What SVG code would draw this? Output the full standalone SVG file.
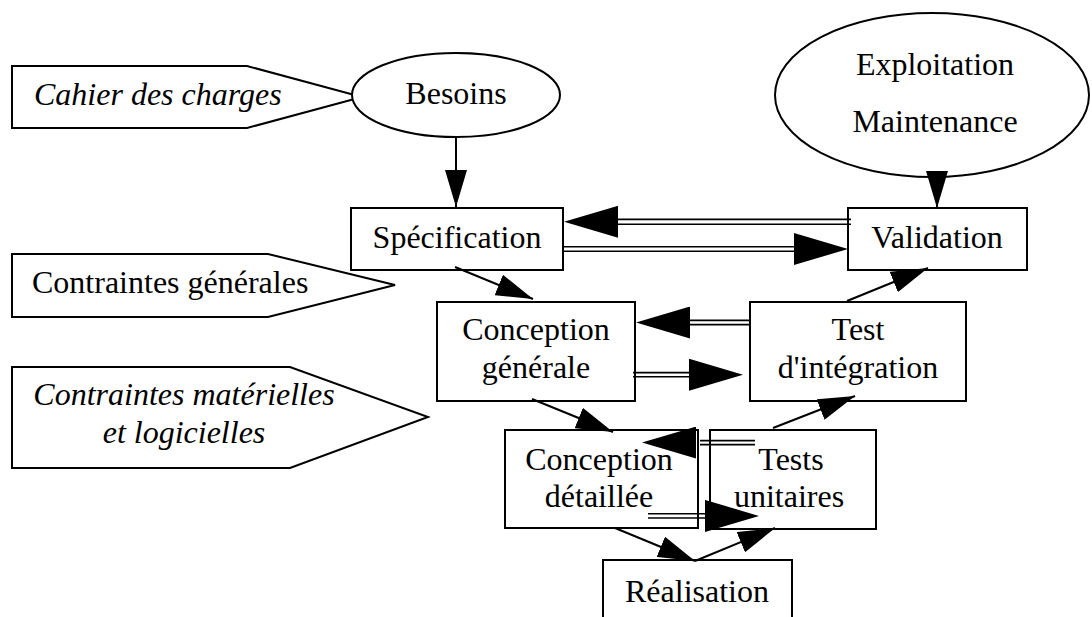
<svg xmlns="http://www.w3.org/2000/svg" width="1092" height="617" viewBox="0 0 1092 617">
<style>
.box{fill:#fff;stroke:#000;stroke-width:2}
.t{font-family:"Liberation Serif","Times New Roman",serif;font-size:32px;fill:#000}
.i{font-style:italic}
.m{text-anchor:middle}
.ln{stroke:#000;stroke-width:2;fill:none}
.dl{stroke:#000;stroke-width:1.6;fill:none}
.ctr{stroke:none;fill:none}
</style>
<defs>
<marker id="ah" markerUnits="userSpaceOnUse" viewBox="0 0 37 22" markerWidth="37" markerHeight="22" refX="37" refY="11" orient="auto"><path d="M0,0 L37,11 L0,22 z" fill="#000"/></marker>
<marker id="ahb" markerUnits="userSpaceOnUse" viewBox="0 0 54 32" markerWidth="54" markerHeight="32" refX="54" refY="16" orient="auto"><path d="M0,0 L54,16 L0,32 z" fill="#000"/></marker>
</defs>
<rect width="1092" height="617" fill="#fff"/>

<g id="cahier">
<polygon class="box" points="12,66 247,66 362,97 247,128 12,128"/>
<text class="t i" x="34" y="105">Cahier des charges</text>
</g>
<g id="besoins">
<ellipse class="box" cx="456" cy="95" rx="104" ry="42"/>
<text class="t m" x="456" y="104">Besoins</text>
</g>
<g id="exploitation">
<ellipse class="box" cx="932" cy="95" rx="157" ry="82"/>
<text class="t m" x="935" y="75">Exploitation</text>
<text class="t m" x="935" y="132">Maintenance</text>
</g>
<g id="specification">
<rect class="box" x="351" y="208" width="212" height="62"/>
<text class="t m" x="457" y="248">Spécification</text>
</g>
<g id="validation">
<rect class="box" x="848" y="208" width="179" height="62"/>
<text class="t m" x="937" y="248">Validation</text>
</g>
<g id="contraintes-generales">
<polygon class="box" points="12,254 268,254 395,285 268,317 12,317"/>
<text class="t" x="32" y="293">Contraintes générales</text>
</g>
<g id="contraintes-materielles">
<polygon class="box" points="12,367 290,367 428,417 290,468 12,468"/>
<text class="t i m" x="184" y="405">Contraintes matérielles</text>
<text class="t i m" x="184" y="443">et logicielles</text>
</g>
<g id="conception-generale">
<rect class="box" x="437" y="302" width="198" height="99"/>
<text class="t m" x="536" y="340">Conception</text>
<text class="t m" x="536" y="378">générale</text>
</g>
<g id="test-integration">
<rect class="box" x="750" y="302" width="216" height="99"/>
<text class="t m" x="858" y="340">Test</text>
<text class="t m" x="858" y="378">d'intégration</text>
</g>
<g id="conception-detaillee">
<rect class="box" x="505" y="430" width="193" height="98"/>
<text class="t m" x="599" y="470">Conception</text>
<text class="t m" x="599" y="507">détaillée</text>
</g>
<g id="tests-unitaires">
<rect class="box" x="710" y="430" width="166" height="99"/>
<text class="t m" x="791" y="470">Tests</text>
<text class="t m" x="789" y="507">unitaires</text>
</g>
<g id="realisation">
<rect class="box" x="603" y="560" width="189" height="80"/>
<text class="t m" x="697" y="602">Réalisation</text>
</g>

<g id="connectors">
<path class="ln" d="M456,137 L456,207" marker-end="url(#ah)"/>
<path class="ln" d="M937,172 L937,208" marker-end="url(#ah)"/>
<path class="ln" d="M455,267 L533,299" marker-end="url(#ah)"/>
<path class="ln" d="M532,399 L613,432" marker-end="url(#ah)"/>
<path class="ln" d="M773,428 L855,396" marker-end="url(#ah)"/>
<path class="ln" d="M847,301 L928,268" marker-end="url(#ah)"/>
<path class="ln" d="M615,528 L695,561" marker-end="url(#ah)"/>
<path class="ln" d="M695,561 L775,528" marker-end="url(#ah)"/>

<path class="dl" d="M851,219.4 L612,219.4 M851,224.2 L612,224.2"/>
<path class="ctr" d="M700,221.8 L564,221.8" marker-end="url(#ahb)"/>
<path class="dl" d="M563,246.8 L800,246.8 M563,251.2 L800,251.2"/>
<path class="ctr" d="M700,249 L848,249" marker-end="url(#ahb)"/>

<path class="dl" d="M750,320.4 L684,320.4 M750,324.6 L684,324.6"/>
<path class="ctr" d="M720,322.5 L636,322.5" marker-end="url(#ahb)"/>
<path class="dl" d="M633,372.6 L696,372.6 M633,376.8 L696,376.8"/>
<path class="ctr" d="M660,374.7 L743,374.7" marker-end="url(#ahb)"/>

<path class="dl" d="M755,440.6 L700,440.6 M755,444.6 L700,444.6"/>
<path class="ctr" d="M740,442.6 L642,442.6" marker-end="url(#ahb)"/>
<path class="dl" d="M648,513.8 L712,513.8 M648,518 L712,518"/>
<path class="ctr" d="M660,515.9 L759,515.9" marker-end="url(#ahb)"/>
</g>
</svg>
